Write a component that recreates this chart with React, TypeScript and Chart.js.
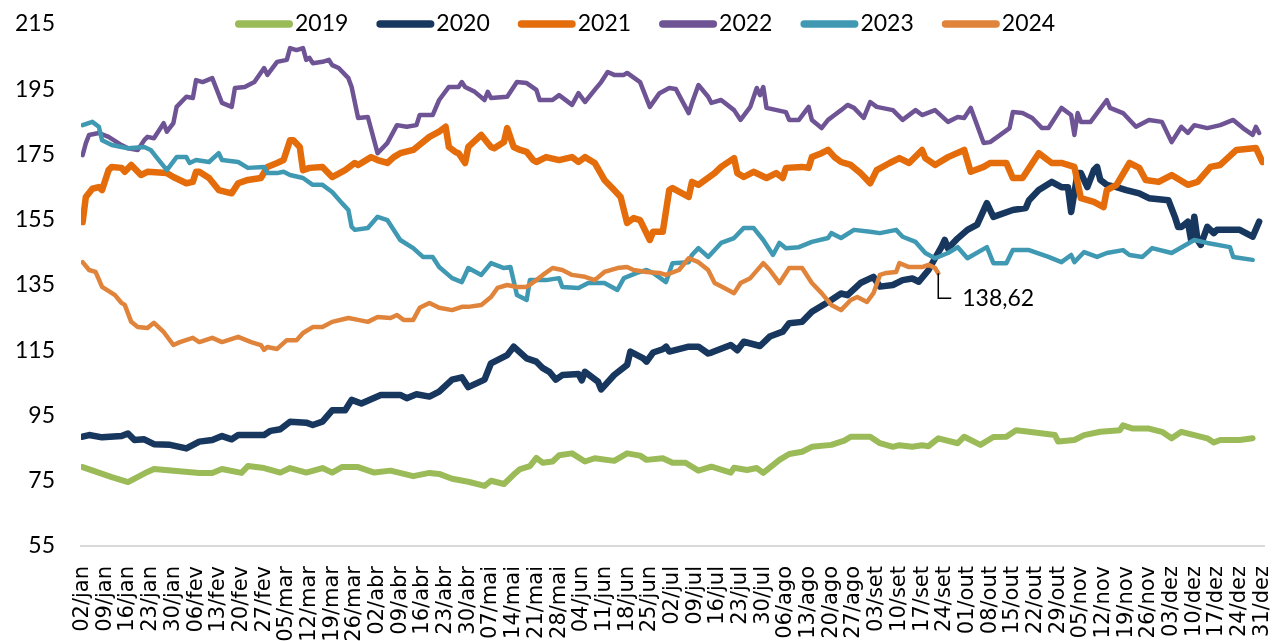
import React, { useEffect, useRef } from 'react';
import { Chart, registerables } from 'chart.js';

Chart.register(...registerables);

// ---- Data (day offset from 02/jan, value) ----
const xLabels = ['02/jan','09/jan','16/jan','23/jan','30/jan','06/fev','13/fev','20/fev','27/fev','05/mar','12/mar','19/mar','26/mar','02/abr','09/abr','16/abr','23/abr','30/abr','07/mai','14/mai','21/mai','28/mai','04/jun','11/jun','18/jun','25/jun','02/jul','09/jul','16/jul','23/jul','30/jul','06/ago','13/ago','20/ago','27/ago','03/set','10/set','17/set','24/set','01/out','08/out','15/out','22/out','29/out','05/nov','12/nov','19/nov','26/nov','03/dez','10/dez','17/dez','24/dez','31/dez'];

const yTicks = [55, 75, 95, 115, 135, 155, 175, 195, 215];

const seriesNames = ['2019', '2020', '2021', '2022', '2023', '2024'];

const s2019: [number, number][] = [[0,79.2],[9,76.1],[14,74.6],[20,77.7],[22,78.6],[36,77.4],[40,77.4],[43,78.6],[49,77.4],[51,79.5],[56,78.9],[61,77.5],[64,78.9],[69,77.5],[74,78.9],[77,77.5],[80,79.2],[85,79.2],[90,77.5],[95,78.1],[102,76.4],[107,77.4],[110,77.1],[114,75.6],[119,74.7],[124,73.4],[126,75],[130,74],[133,76.9],[135,78.6],[138,79.5],[140,82],[142,80.5],[145,80.9],[147,82.8],[151,83.4],[155,80.9],[158,81.9],[164,81.1],[168,83.4],[172,82.7],[174,81.4],[179,81.9],[182,80.5],[186,80.5],[190,78.1],[194,79.3],[200,77.5],[201,79],[205,78.3],[208,78.9],[210,77.4],[215,81.4],[218,83.2],[222,83.9],[225,85.4],[231,86],[235,87.3],[237,88.5],[243,88.5],[246,86.5],[250,85.4],[252,85.9],[256,85.4],[259,85.9],[261,85.6],[264,88],[270,86.5],[272,88.5],[277,86],[281,88.4],[285,88.5],[288,90.5],[292,90],[300,89],[301,87],[306,87.5],[309,89],[314,90],[320,90.5],[321,92],[324,91],[329,91],[333,90],[336,88],[339,90],[343,89],[347,88],[349,86.7],[351,87.5],[357,87.5],[361,88]];

const s2020: [number, number][] = [[0,88.5],[2,89],[6,88.3],[12,88.7],[14,89.5],[16,87.5],[19,87.7],[22,86.2],[27,86],[32,84.9],[36,87],[40,87.5],[43,88.7],[46,87.7],[48,89],[56,89],[58,90.3],[61,90.8],[64,93.1],[69,92.8],[71,92.1],[74,93.1],[77,96.6],[81,96.6],[83,99.8],[86,98.7],[92,101.3],[98,101.3],[100,100.3],[103,101.5],[107,100.8],[110,102.3],[114,106],[117,106.7],[119,103.7],[124,106],[126,111],[131,113.5],[133,116.1],[137,112.5],[140,111.5],[142,109.5],[144,108.4],[146,106],[148,107.4],[153,107.7],[154,105.8],[155,108.4],[159,105.4],[160,103],[164,107.4],[168,110.5],[169,114.6],[173,112.5],[174,111.5],[176,114.3],[179,115.3],[180,116.1],[181,114.6],[187,116.1],[190,116.1],[193,114],[194,114.3],[200,116.6],[202,115],[204,117.6],[209,116.3],[212,119.2],[216,120.7],[218,123.3],[222,123.7],[225,126.8],[229,129.2],[231,130.4],[234,132.4],[236,131.9],[240,135.6],[244,137.5],[246,134.5],[250,135],[253,136.5],[256,137],[258,136],[261,139.6],[263,143.2],[265,146.7],[266,148.8],[267,146.2],[270,149.3],[273,151.9],[276,153.5],[279,160.1],[281,155.9],[287,158],[291,158.6],[292,161],[295,164.1],[299,166.6],[302,165],[304,165],[305,157.4],[307,169.3],[308,169.3],[310,165],[312,170.2],[313,171.2],[314,167.2],[316,165.7],[319,165],[322,164.1],[326,163.1],[329,161.6],[335,161],[337,155.9],[338,152.8],[339,152.8],[341,154.4],[342,148.8],[343,155.9],[344,148.8],[345,147.3],[347,152.8],[349,150.9],[350,151.9],[357,151.9],[361,149.8],[363,154.4]];

const s2021: [number, number][] = [[0,154.3],[1,162],[3,164.5],[5,165],[6,164.1],[8,170.2],[9,171.2],[12,170.9],[13,169.7],[15,171.8],[18,168.7],[20,169.7],[26,169.3],[28,168.1],[32,166.2],[34,166.6],[35,169.7],[36,169.7],[39,167.8],[42,164.1],[46,163.1],[48,166.2],[51,167.2],[55,167.8],[57,171.2],[60,172.4],[62,173.3],[64,179.4],[65,179.4],[67,177.3],[68,170.2],[70,170.9],[74,171.2],[77,168.1],[81,170.2],[84,172.4],[85,171.8],[89,174.2],[91,173.3],[94,172.4],[96,174.2],[98,175.4],[102,176.4],[104,178],[107,180.4],[110,182],[112,183.5],[113,177.3],[115,175.8],[116,175.4],[118,172.4],[119,177.3],[123,181],[126,177.3],[127,176.9],[130,178.8],[131,183.1],[133,177.3],[135,176.4],[137,175.8],[139,173.3],[140,172.7],[143,174.2],[147,173.3],[151,174.2],[153,172.7],[155,174.2],[158,172.4],[161,167.2],[164,164.1],[166,162],[168,154],[170,155.5],[172,154.9],[175,148.8],[176,151.3],[179,151.3],[181,164.1],[182,164.7],[187,162],[188,166.6],[190,165.7],[195,169.3],[197,171.2],[201,173.9],[202,169.3],[204,168.1],[207,169.7],[211,167.8],[214,169.3],[216,167.8],[217,170.9],[222,171.2],[224,170.9],[225,174.2],[228,175.4],[230,176.4],[232,174.2],[234,172.7],[237,171.8],[240,169.3],[243,166.2],[245,170.2],[249,172.4],[252,173.9],[255,172.4],[259,176.4],[260,173.9],[263,171.8],[267,174.2],[272,176.4],[274,169.7],[278,171.2],[280,172.4],[285,172.4],[287,167.8],[290,167.8],[295,175.4],[299,172.4],[302,172.4],[306,171.2],[308,161.6],[312,160.5],[315,158.9],[316,164.1],[319,165.7],[323,172.4],[326,170.9],[328,167.2],[332,166.6],[336,168.7],[341,165.7],[344,166.6],[348,171.2],[351,171.8],[356,176.4],[362,177],[364,172.7]];

const s2022: [number, number][] = [[0,174.8],[1,178.5],[2,181],[5,181.6],[8,180.4],[12,177.9],[14,176.9],[17,176.4],[19,179.4],[20,180.4],[22,180],[25,184.6],[26,182],[28,184.6],[29,189.6],[32,192.7],[34,192.3],[35,197.8],[37,197.2],[40,198.4],[43,190.8],[46,189.6],[47,195.4],[50,195.7],[53,197.2],[56,201.5],[57,199.4],[60,203.4],[63,204],[64,207.6],[66,207],[68,207.6],[69,204],[70,204.6],[71,203],[74,203.4],[76,204],[77,202.4],[79,201.5],[82,198.4],[83,195.7],[85,186.2],[88,186.5],[91,175.4],[94,178.5],[97,184],[100,183.5],[103,184],[104,187.1],[108,187.1],[110,191.7],[113,195.7],[116,195.7],[117,197.2],[118,195.7],[121,194.2],[124,191.7],[125,194.2],[126,192.3],[131,192.7],[134,197.2],[137,196.9],[140,194.8],[141,191.7],[145,191.7],[147,193.2],[151,190.2],[153,193.8],[155,191.1],[158,194.8],[160,197.2],[162,200.3],[164,199.4],[167,199.4],[168,200],[172,197.2],[175,189.6],[178,193.8],[181,195.4],[183,195.1],[187,187.7],[188,190.8],[190,196.3],[193,192.7],[194,190.8],[197,191.7],[201,188.6],[203,185.6],[206,189.6],[208,195.4],[209,193.2],[210,195.7],[211,189.3],[217,188],[218,185.6],[221,185.6],[224,189.6],[225,185.6],[228,183.1],[230,185.6],[232,187.1],[234,188.6],[236,190.2],[238,189.3],[241,186.2],[243,191.1],[245,189.6],[250,188.6],[253,185.6],[257,188.6],[259,187.1],[263,188.6],[267,185],[270,186.5],[272,186.2],[274,189.3],[278,178.5],[280,178.8],[286,183.1],[287,188],[290,187.7],[293,186.2],[296,183.1],[298,183.1],[302,189.3],[305,187.1],[306,181],[307,187.7],[308,185],[311,185],[316,191.7],[317,189.3],[321,187.7],[325,183.5],[329,185.6],[333,185],[336,178.8],[339,183.5],[341,181.6],[343,184],[347,183.1],[351,184],[355,185.6],[358,183.1],[361,181],[362,183.5],[363,181.6]];

const s2023: [number, number][] = [[0,184],[3,185],[5,183.5],[6,179.4],[9,177.9],[12,177.3],[14,176.9],[19,177.3],[21,176.4],[23,173.9],[26,170.2],[29,174.2],[32,174.2],[33,172.4],[35,173.3],[39,172.7],[42,175.4],[43,173.3],[48,172.7],[51,170.9],[56,171.2],[57,169.3],[60,169.3],[62,169.7],[64,168.7],[68,167.8],[71,165.7],[74,165.7],[77,163.5],[80,160.1],[82,158],[83,152.8],[84,151.9],[88,152.5],[91,155.9],[94,154.9],[98,148.8],[102,146.3],[105,143.6],[108,143.6],[110,140.5],[114,137.1],[117,135.9],[119,140.2],[123,138.1],[126,141.7],[130,140.2],[132,140.5],[134,131.9],[137,130.4],[138,136.5],[143,136.5],[147,137.1],[148,134.4],[153,134.1],[156,135.6],[161,135.6],[165,133.5],[167,137.1],[171,138.7],[174,139.6],[176,138.7],[180,135.9],[182,141.7],[187,142],[188,144.2],[190,146.3],[193,143.6],[197,147.9],[201,149.4],[204,152.5],[207,152.5],[210,148.8],[213,144.2],[215,147.9],[217,146.3],[221,146.6],[225,148.2],[230,149.4],[231,150.9],[234,149.4],[238,151.9],[243,151.3],[246,150.9],[251,151.9],[253,149.8],[257,148.2],[260,144.8],[263,143.2],[267,144.8],[270,146.6],[273,143.2],[279,146.6],[281,141.7],[285,141.7],[287,145.7],[292,145.7],[298,143.6],[302,142],[305,144.2],[306,142],[309,145.1],[313,143.6],[316,144.8],[321,145.7],[323,144.2],[327,143.6],[330,146.3],[336,144.8],[343,148.8],[347,147.9],[354,146.6],[355,143.6],[361,142.7]];

const s2024: [number, number][] = [[0,142],[2,139.6],[4,139],[6,134.4],[10,131.9],[12,129.5],[13,128.9],[15,123.7],[17,122.1],[20,121.8],[22,123.4],[25,120.6],[28,116.6],[30,117.5],[34,118.8],[36,117.5],[40,118.8],[43,117.5],[48,119.1],[52,117.5],[55,116.6],[56,115.1],[57,116],[60,115.4],[63,118.1],[66,118.1],[68,120.3],[71,122.1],[74,122.1],[77,123.7],[82,124.9],[85,124.3],[88,123.7],[91,125.2],[95,124.9],[97,125.8],[99,124.3],[102,124.3],[104,128],[107,129.5],[110,128],[114,127.3],[117,128.3],[119,128.3],[123,128.9],[126,131.3],[128,134.1],[131,135],[134,134.4],[137,134.4],[140,136.5],[142,138.1],[145,140.2],[148,139.6],[151,138.1],[155,137.5],[158,136.5],[161,139],[165,140.2],[168,140.5],[170,139.6],[174,139],[178,138.7],[180,138.1],[184,139.6],[187,143.2],[190,142],[193,139.6],[195,135.6],[198,134.1],[201,132.5],[203,135.6],[206,137.1],[210,141.7],[212,139.6],[215,135.6],[218,140.2],[222,140.2],[225,135.6],[228,132.5],[231,128.9],[234,127.3],[237,130.4],[239,131.3],[242,129.8],[244,132.5],[246,138.1],[248,138.7],[251,139],[252,141.7],[255,140.5],[259,140.5],[261,141.2],[263,140.2],[264,138.62]];

const seriesData = [s2019, s2020, s2021, s2022, s2023, s2024];

// ---- Styles ----
const seriesColors = ['#9BBB59', '#17375E', '#E46C0A', '#6E5494', '#4099B3', '#E0843C'];
const seriesLineWidths = [6, 6.5, 6.5, 4.5, 4.5, 4.5];
const LABEL_FONT = 'Lato';

const legendPlugin = {
  id: 'customLegend',
  afterDraw(chart: any) {
    const ctx = chart.ctx as CanvasRenderingContext2D;
    ctx.save();
    ctx.font = `23px ${LABEL_FONT}`;
    ctx.textBaseline = 'middle';
    ctx.textAlign = 'left';
    const y = 24;
    let x = 235;
    seriesNames.forEach((name, i) => {
      ctx.strokeStyle = seriesColors[i];
      ctx.lineWidth = 7.5;
      ctx.lineCap = 'round';
      ctx.beginPath();
      ctx.moveTo(x + 3.75, y);
      ctx.lineTo(x + 54.25, y);
      ctx.stroke();
      ctx.fillStyle = '#000';
      ctx.fillText(name, x + 60, y);
      x += 60 + ctx.measureText(name).width + 28;
    });
    ctx.restore();
  },
};

const annotationPlugin = {
  id: 'lastValueLabel',
  afterDatasetsDraw(chart: any) {
    const idx = seriesData.length - 1;
    const meta = chart.getDatasetMeta(idx);
    const pts = meta.data;
    if (!pts || !pts.length) return;
    const last = pts[pts.length - 1];
    const series = seriesData[idx];
    const value = series[series.length - 1][1];
    const ctx = chart.ctx as CanvasRenderingContext2D;
    ctx.save();
    ctx.strokeStyle = '#000';
    ctx.lineWidth = 1.5;
    ctx.beginPath();
    ctx.moveTo(last.x, last.y);
    ctx.lineTo(last.x, last.y + 25);
    ctx.lineTo(last.x + 13, last.y + 25);
    ctx.stroke();
    ctx.fillStyle = '#000';
    ctx.font = `23px ${LABEL_FONT}`;
    ctx.textBaseline = 'middle';
    ctx.textAlign = 'left';
    ctx.fillText(value.toFixed(2).replace('.', ','), last.x + 24, last.y + 25);
    ctx.restore();
  },
};

export default function App() {
  const ref = useRef<HTMLCanvasElement>(null);

  useEffect(() => {
    if (!ref.current) return;
    const datasets = seriesData.map((s, i) => ({
      label: seriesNames[i],
      data: s.map(([d, v]) => ({ x: d, y: v })),
      borderColor: seriesColors[i],
      backgroundColor: seriesColors[i],
      borderWidth: seriesLineWidths[i],
      pointRadius: 0,
      tension: 0,
      borderJoinStyle: 'round' as const,
      borderCapStyle: 'round' as const,
      order: seriesData.length - 1 - i,
    }));

    const chart = new Chart(ref.current, {
      type: 'line',
      data: { datasets },
      options: {
        animation: false,
        responsive: false,
        devicePixelRatio: 1,
        layout: { padding: { top: 24, right: 12, left: 0, bottom: 0 } },
        plugins: {
          legend: { display: false },
          tooltip: { enabled: false },
        },
        scales: {
          x: {
            type: 'linear',
            min: -0.5,
            max: 364.5,
            afterBuildTicks: (scale: any) => {
              scale.ticks = xLabels.map((_, i) => ({ value: i * 7 }));
            },
            afterFit: (scale: any) => {
              scale.height = 95;
              scale.paddingLeft = 0;
              scale.paddingRight = 0;
              scale.paddingTop = 0;
              scale.paddingBottom = 0;
            },
            grid: { display: false, drawTicks: false },
            border: { display: true, color: '#D9D9D9', width: 2 },
            ticks: {
              autoSkip: false,
              minRotation: 90,
              maxRotation: 90,
              padding: 20,
              color: '#000',
              font: { family: 'DejaVu Sans', size: 21 },
              callback: (value: any) => xLabels[Math.round(Number(value) / 7)] ?? '',
            },
          },
          y: {
            type: 'linear',
            min: yTicks[0],
            max: yTicks[yTicks.length - 1],
            afterBuildTicks: (scale: any) => {
              scale.ticks = yTicks.map((v) => ({ value: v }));
            },
            afterFit: (scale: any) => {
              scale.width = 81;
              scale.paddingLeft = 0;
              scale.paddingRight = 0;
              scale.paddingTop = 0;
              scale.paddingBottom = 0;
            },
            grid: { display: false, drawTicks: false },
            border: { display: false },
            ticks: {
              padding: 26,
              color: '#000',
              font: { family: LABEL_FONT, size: 23 },
            },
          },
        },
      },
      plugins: [legendPlugin, annotationPlugin],
    } as any);

    return () => chart.destroy();
  }, []);

  return (
    <div
      style={{
        position: 'absolute',
        left: 0,
        top: 0,
        width: 1276,
        height: 641,
        overflow: 'hidden',
        background: '#fff',
      }}
    >
      <canvas ref={ref} width={1276} height={641} style={{ display: 'block' }} />
    </div>
  );
}
